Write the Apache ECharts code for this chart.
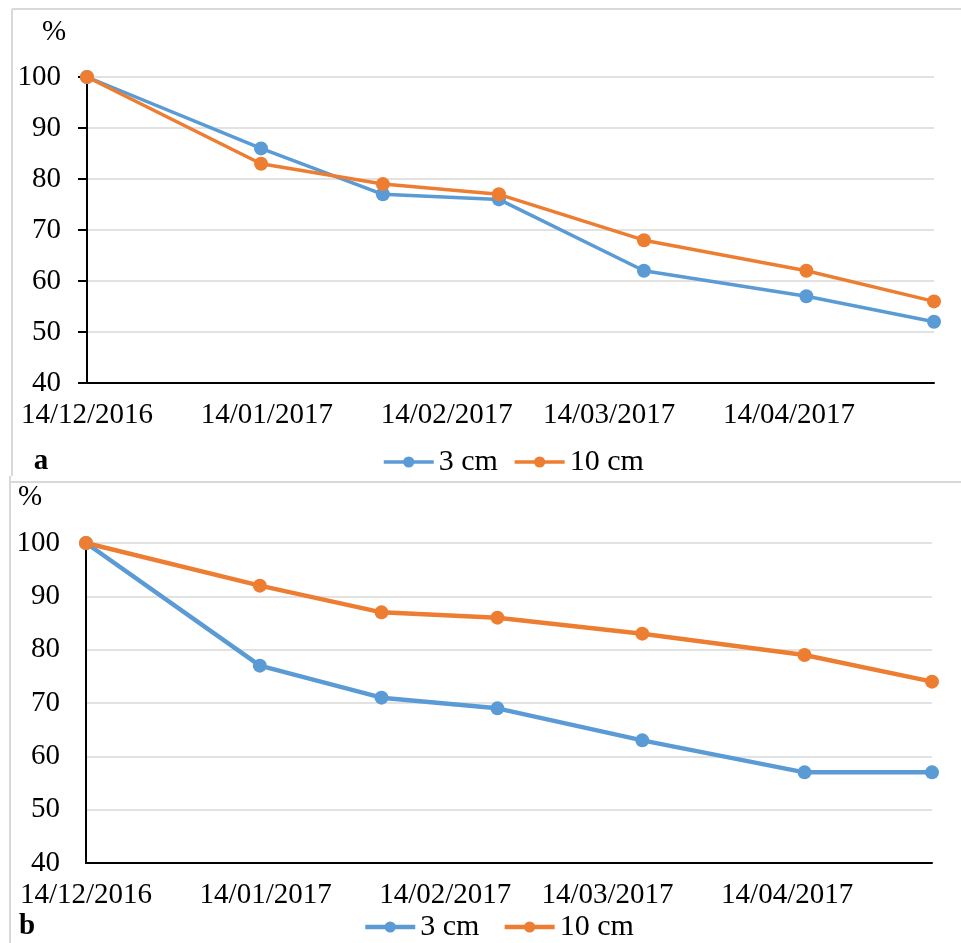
<!DOCTYPE html>
<html>
<head>
<meta charset="utf-8">
<script src="https://cdn.jsdelivr.net/npm/echarts@6.0.0/dist/echarts.min.js"></script>
<style>
  html, body { margin: 0; padding: 0; background: #ffffff; }
  #chart { width: 961px; height: 943px; }
</style>
</head>
<body>
<div id="chart"></div>
<script>
// Sampling dates (dd/mm/yyyy)
const sampleDates = ['14/12/2016', '13/01/2017', '03/02/2017', '23/02/2017', '20/03/2017', '17/04/2017', '09/05/2017'];

// Panel a: remaining percentage at each depth
const a3cm  = [100, 86, 77, 76, 62, 57, 52];
const a10cm = [100, 83, 79, 77, 68, 62, 56];

// Panel b: remaining percentage at each depth
const b3cm  = [100, 77, 71, 69, 63, 57, 57];
const b10cm = [100, 92, 87, 86, 83, 79, 74];

// Date axis tick labels
const xTickLabels = ['14/12/2016', '14/01/2017', '14/02/2017', '14/03/2017', '14/04/2017'];

// Value axis range
const yMin = 40, yMax = 100, yStep = 10;

const seriesNames = ['3 cm', '10 cm'];
const BLUE = '#5B9BD5';
const ORANGE = '#ED7D31';
const FONT = '"Liberation Serif", "Times New Roman", serif';
const FS = 29;

// Dates are placed on a day-count axis starting at the first sampling date
const DAY = 86400000;
function toUTC(s) {
  const p = s.split('/').map(Number);
  return Date.UTC(p[2], p[1] - 1, p[0]);
}
const origin = toUTC(sampleDates[0]);
const dayOf = s => Math.round((toUTC(s) - origin) / DAY);
const tickDays = xTickLabels.map(dayOf);
const pairs = vals => sampleDates.map((d, i) => [dayOf(d), vals[i]]);

function xAxisFor(gridIndex) {
  return {
    type: 'value',
    gridIndex: gridIndex,
    min: dayOf(sampleDates[0]),
    max: dayOf(sampleDates[sampleDates.length - 1]),
    axisLine: { show: true, onZero: false, lineStyle: { color: '#000', width: 2 } },
    axisTick: { show: false },
    splitLine: { show: false },
    axisLabel: {
      customValues: tickDays,
      formatter: v => {
        const i = tickDays.indexOf(Math.round(v));
        return i >= 0 ? xTickLabels[i] : '';
      },
      color: '#000', fontFamily: FONT, fontSize: FS, margin: 18,
      hideOverlap: false
    }
  };
}

function yAxisFor(gridIndex, ticks) {
  return {
    type: 'value',
    gridIndex: gridIndex,
    min: yMin, max: yMax, interval: yStep,
    axisLine: { show: true, onZero: false, lineStyle: { color: '#000', width: 2 } },
    axisTick: { show: ticks, length: 9, lineStyle: { color: '#000', width: 2 } },
    splitLine: { show: true, lineStyle: { color: '#D9D9D9', width: 1.5 } },
    axisLabel: { color: '#000', fontFamily: FONT, fontSize: FS, margin: 26 }
  };
}

function lineSeries(name, vals, color, idx, width) {
  return {
    name: name, type: 'line',
    xAxisIndex: idx, yAxisIndex: idx,
    data: pairs(vals),
    symbol: 'circle', symbolSize: 14,
    lineStyle: { color: color, width: width },
    itemStyle: { color: color },
    emphasis: { disabled: true },
    animation: false
  };
}

function legendAt(left, top, gap, lw) {
  return {
    data: seriesNames,
    left: left, top: top,
    orient: 'horizontal',
    padding: 0,
    itemWidth: 50, itemHeight: 14, itemGap: gap,
    lineStyle: { width: lw },
    textStyle: { color: '#000', fontFamily: FONT, fontSize: FS + 1 }
  };
}

const frame = { stroke: '#D9D9D9', lineWidth: 2 };
const txt = (x, y, s, bold) => ({
  type: 'text', x: x, y: y,
  style: { text: s, fill: '#000', font: (bold ? 'bold ' : '') + FS + 'px ' + FONT, align: 'center', verticalAlign: 'middle' }
});

const option = {
  backgroundColor: '#ffffff',
  animation: false,
  grid: [
    { left: 87, right: 27, top: 77, height: 306 },
    { left: 86, right: 29, top: 543, height: 320 }
  ],
  xAxis: [xAxisFor(0), xAxisFor(1)],
  yAxis: [yAxisFor(0, true), yAxisFor(1, false)],
  legend: [legendAt(382, 447, 15, 3.5), legendAt(363, 912, 23, 4.5)],
  series: [
    lineSeries(seriesNames[0], a3cm, BLUE, 0, 3.5),
    lineSeries(seriesNames[1], a10cm, ORANGE, 0, 3.5),
    lineSeries(seriesNames[0], b3cm, BLUE, 1, 4.5),
    lineSeries(seriesNames[1], b10cm, ORANGE, 1, 4.5)
  ],
  graphic: [
    { type: 'line', shape: { x1: 12, y1: 9, x2: 961, y2: 9 }, style: frame, silent: true },
    { type: 'line', shape: { x1: 12, y1: 9, x2: 12, y2: 476 }, style: frame, silent: true },
    { type: 'line', shape: { x1: 10, y1: 482, x2: 961, y2: 482 }, style: frame, silent: true },
    { type: 'line', shape: { x1: 10, y1: 476, x2: 10, y2: 943 }, style: frame, silent: true },
    txt(54, 32, '%', false),
    txt(30, 497, '%', false),
    txt(41, 462, 'a', true),
    txt(27, 927, 'b', true)
  ]
};

const chart = echarts.init(document.getElementById('chart'), null, { renderer: 'canvas' });
chart.setOption(option);
</script>
</body>
</html>
